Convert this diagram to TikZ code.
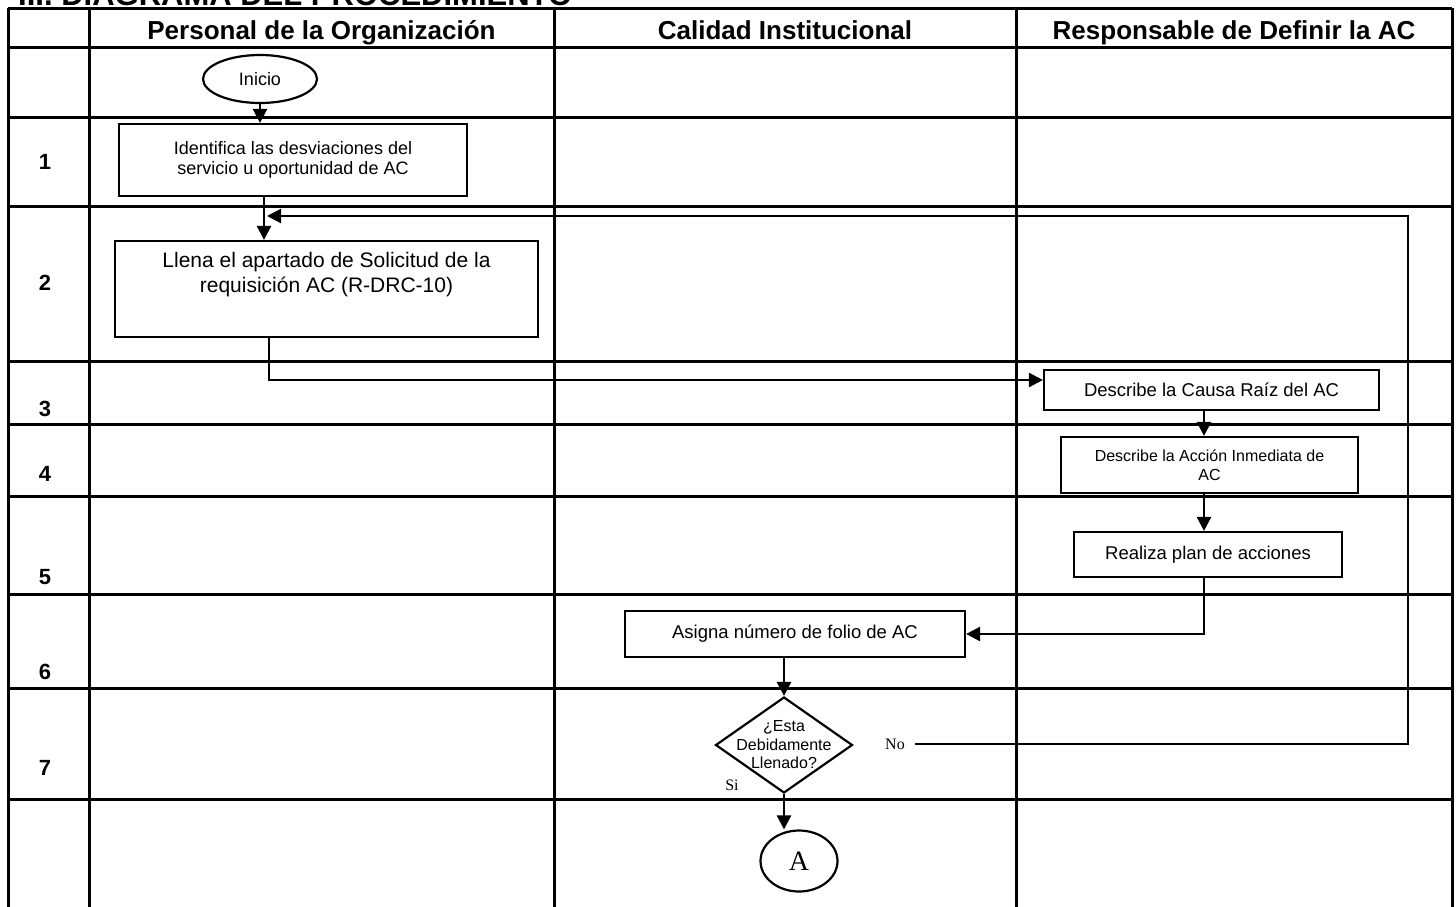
\documentclass[tikz,border=0pt]{standalone}
\usepackage{fontspec}
\setmainfont{Liberation Sans}
\newfontfamily\tmsfont{Liberation Serif}
\usetikzlibrary{arrows.meta,shapes.geometric}

\tikzset{
  laneline/.style={line width=3pt},
  stepbox/.style={draw, line width=2.2pt, align=center, inner sep=0pt, font=\fontsize{18.5}{21}\selectfont},
  startend/.style={draw, ellipse, line width=2.2pt, inner sep=0pt},
  decision/.style={draw, diamond, line width=2.2pt, inner sep=0pt, minimum width=137pt, minimum height=96pt},
  flow/.style={line width=2.6pt, -{Triangle[length=14pt,width=14pt]}},
  lanehead/.style={anchor=base, font=\bfseries\fontsize{26}{30}\selectfont},
  rownum/.style={font=\bfseries\fontsize{22}{26}\selectfont},
  lbl/.style={font=\tmsfont\fontsize{16}{18}\selectfont, inner sep=0pt},
}

\begin{document}
\begin{tikzpicture}[x=1pt, y=-1pt]
  \useasboundingbox (0,0) rectangle (1456,906);
  \fill[white] (0,0) rectangle (1456,906);
  \clip (0,0) rectangle (1456,906);

  \node[anchor=base west, inner sep=0pt, font=\bfseries\fontsize{31}{36}\selectfont] (ttl) at (18,5) {III. DIAGRAMA DEL PROCEDIMIENTO};

  % lanes and rows
  \foreach \y in {8,47,117,206,361,424,496,594,688,799}
    \draw[laneline] (8,\y) -- (1452,\y);
  \foreach \x in {8,89,554,1016,1452}
    \draw[laneline] (\x,8) -- (\x,912);

  \node[lanehead] (h1) at (321.5,39) {Personal de la Organización};
  \node[lanehead] (h2) at (785,39) {Calidad Institucional};
  \node[lanehead] (h3) at (1234,39) {Responsable de Definir la AC};

  \foreach \n/\y in {1/162,2/283,3/409,4/474,5/577,6/672,7/768}
    \node[rownum] (r\n) at (45,\y) {\n};

  % steps
  \node[startend, minimum width=114pt, minimum height=48pt, font=\fontsize{18}{21}\selectfont] (ini) at (260,79) {Inicio};
  \node[stepbox, minimum width=348pt, minimum height=72pt, font=\fontsize{18}{20}\selectfont] (b1) at (293,160) {Identifica las desviaciones del\\servicio u oportunidad de AC};
  \node[stepbox, minimum width=423pt, minimum height=96pt, font=\fontsize{21}{25}\selectfont] (b2) at (326.5,289) {Llena el apartado de Solicitud de la\\requisición AC (R-DRC-10)\\\strut};
  \node[stepbox, minimum width=335pt, minimum height=40pt] (b3) at (1211.5,390) {Describe la Causa Raíz del AC};
  \node[stepbox, minimum width=297pt, minimum height=56pt, font=\fontsize{16}{19}\selectfont] (b4) at (1209.5,465) {Describe la Acción Inmediata de\\AC};
  \node[stepbox, minimum width=268pt, minimum height=45pt] (b5) at (1208,554.5) {Realiza plan de acciones};
  \node[stepbox, minimum width=340pt, minimum height=46pt] (b6) at (795,634) {Asigna número de folio de AC};
  \node[decision] (d) at (784,745) {};
  \node[align=center, inner sep=0pt, font=\fontsize{16}{18.5}\selectfont] (dtxt) at (d) {¿Esta\\Debidamente\\Llenado?};
  \node[lbl] (no) at (895,744) {No};
  \node[lbl] (si) at (732,785) {Si};
  \node[startend, minimum width=77pt, minimum height=61pt, font=\tmsfont\fontsize{28}{32}\selectfont] (a) at (799,861) {A};

  % connectors
  \coordinate (j1) at (264,216);
  \coordinate (j2) at (269,380);
  \coordinate (rt) at (1408,216);
  \coordinate (k) at (1204,0);
  \draw[flow] (ini.south) -- (ini.south |- b1.north);
  \draw[flow] (j1 |- b1.south) -- (j1 |- b2.north);
  \draw[flow] (j2 |- b2.south) -- (j2) -- (j2 -| b3.west);
  \draw[flow] (k |- b3.south) -- (k |- b4.north);
  \draw[flow] (k |- b4.south) -- (k |- b5.north);
  \draw[flow] (k |- b5.south) |- (b6.east);
  \draw[flow] (b6.south -| d.north) -- (d.north);
  \draw[flow] (d.south) -- (d.south |- a.north);
  \draw[flow, line width=2.2pt] ([xshift=10pt]no.east) -| (rt) -- ([xshift=3pt]j1);
\end{tikzpicture}
\end{document}
